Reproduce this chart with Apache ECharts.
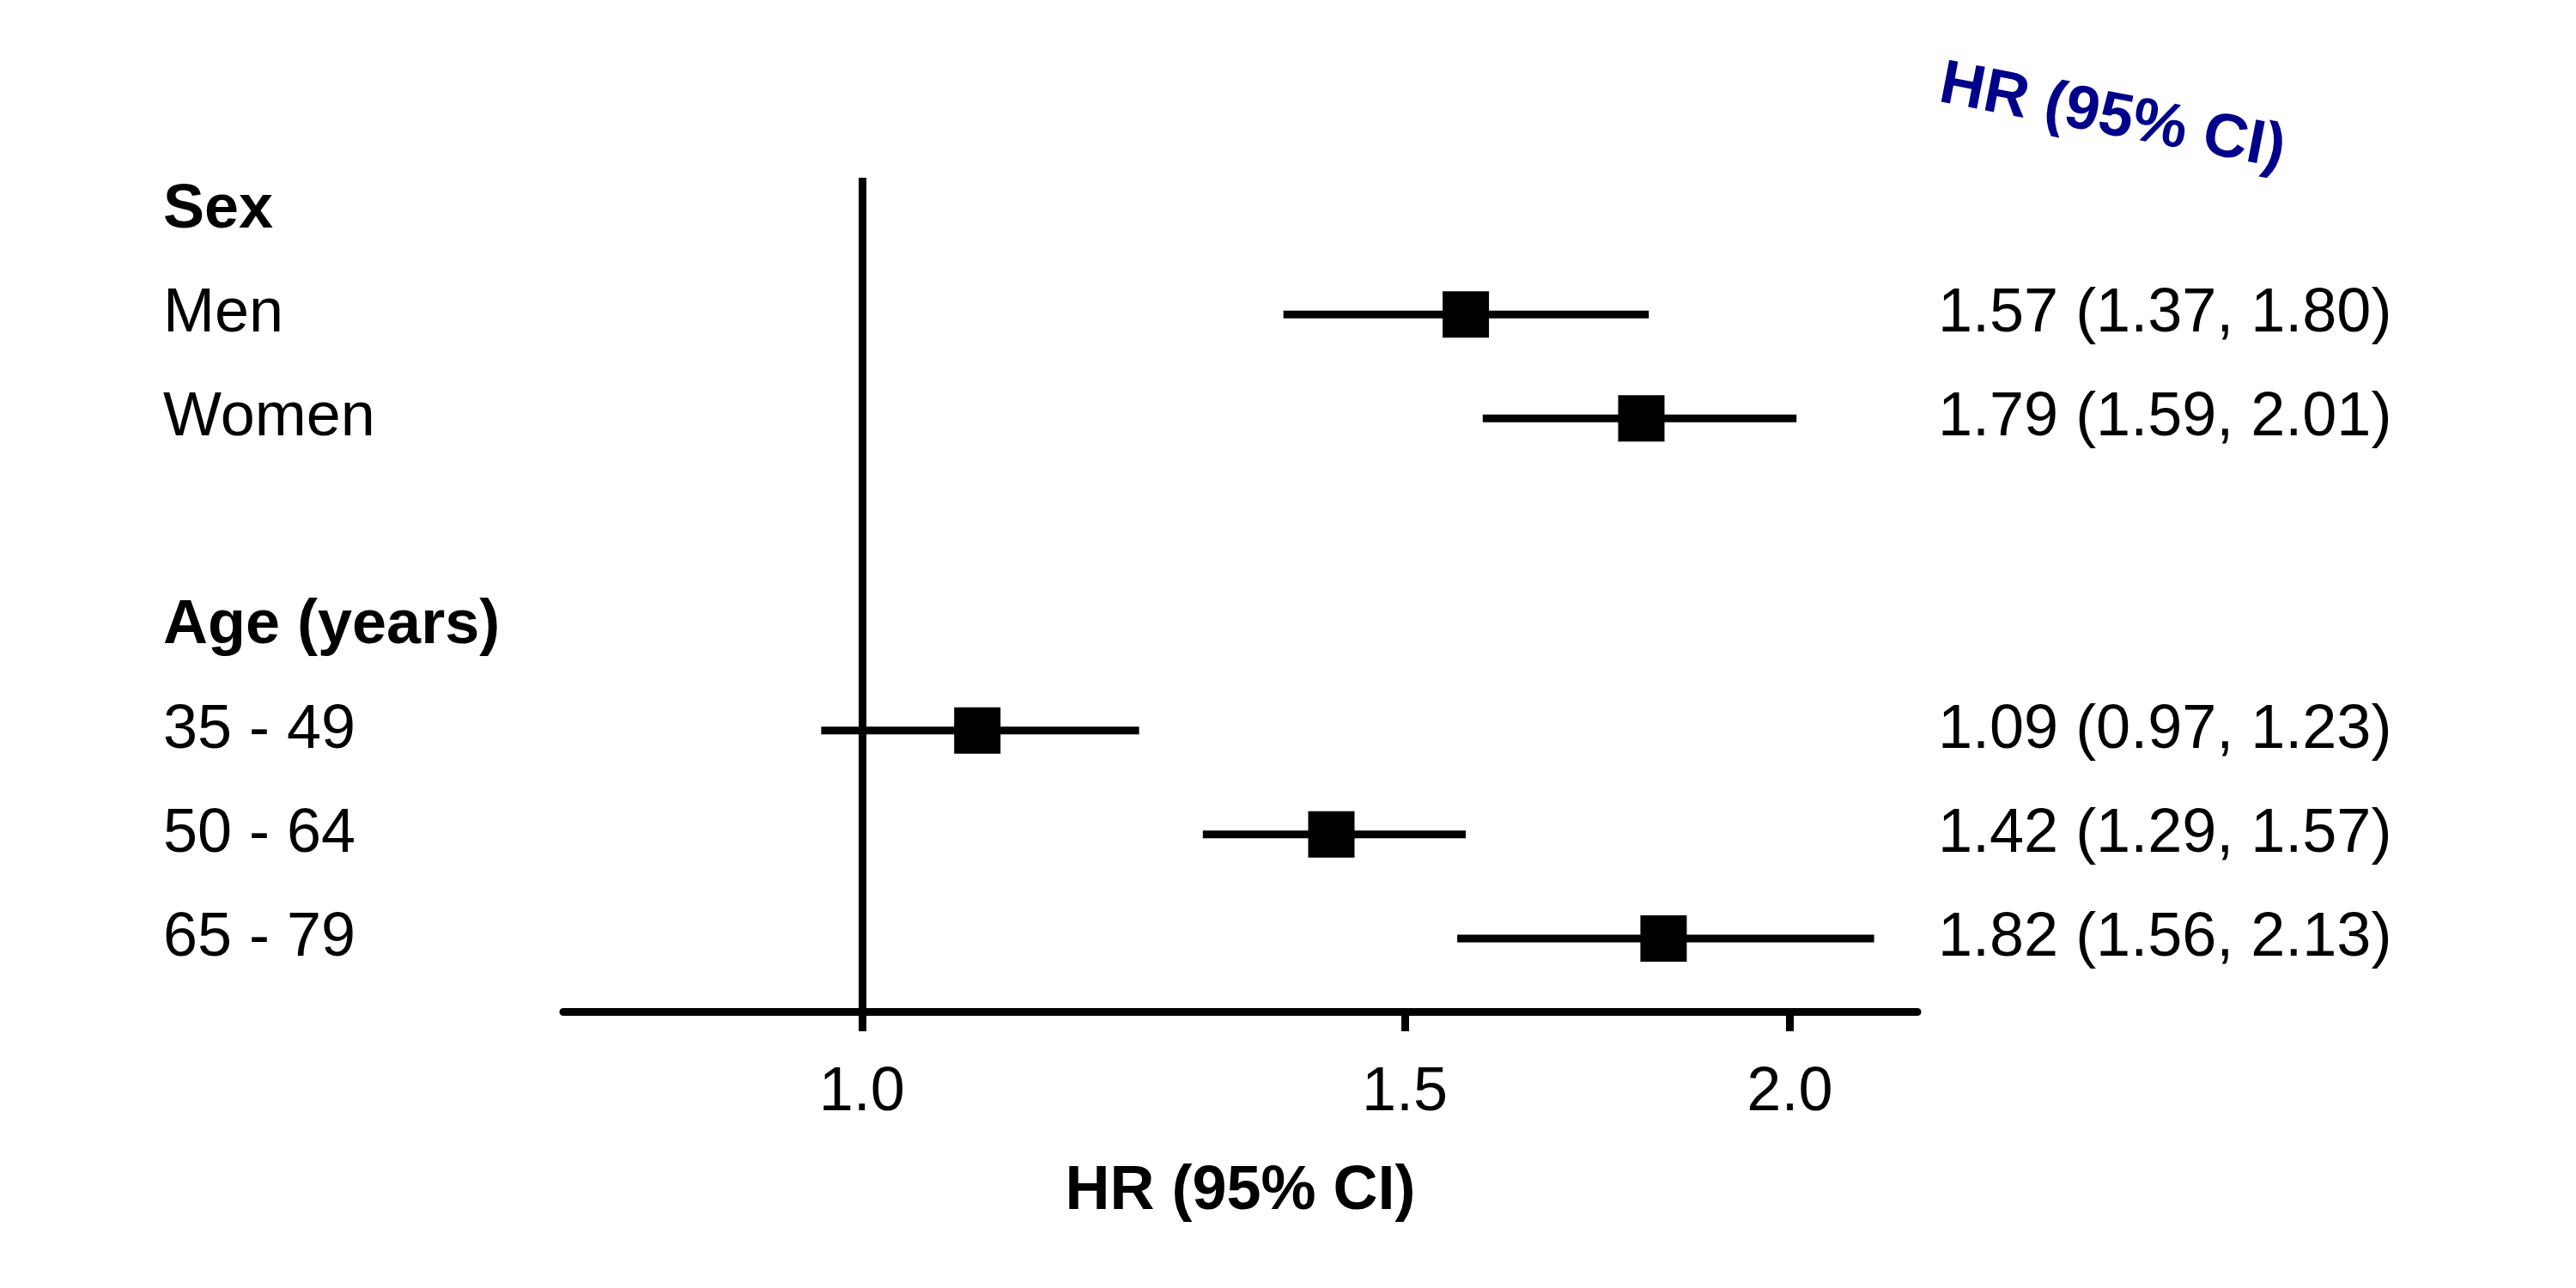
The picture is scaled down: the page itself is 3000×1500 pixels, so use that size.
<!DOCTYPE html>
<html>
<head>
<meta charset="utf-8">
<script src="https://cdn.jsdelivr.net/npm/echarts@6/dist/echarts.min.js"></script>
<style>
html,body{margin:0;padding:0;background:#fff;}
#chart{width:3000px;height:1500px;}
</style>
</head>
<body>
<div id="chart"></div>
<script>
const rowLabels = ['Sex', 'Men', 'Women', '', 'Age (years)', '35 - 49', '50 - 64', '65 - 79'];
const isHeader  = [true, false, false, false, true, false, false, false];
const hr        = [null, 1.57, 1.79, null, null, 1.09, 1.42, 1.82];
const lower     = [null, 1.37, 1.59, null, null, 0.97, 1.29, 1.56];
const upper     = [null, 1.80, 2.01, null, null, 1.23, 1.57, 2.13];
const xTicks    = [1.0, 1.5, 2.0];
const refValue  = 1.0;
const xTitle    = 'HR (95% CI)';
const colTitle  = 'HR (95% CI)';

const rowIdx = rowLabels.map((_, i) => i);
const pointData = [];
const ciData = [];
rowIdx.forEach(i => {
  if (hr[i] != null) {
    pointData.push([hr[i], i]);
    ciData.push([lower[i], upper[i], i]);
  }
});
const rightText = rowIdx.map(i => hr[i] == null ? '' :
  hr[i].toFixed(2) + ' (' + lower[i].toFixed(2) + ', ' + upper[i].toFixed(2) + ')');

const FONT = 'Liberation Sans';
const chart = echarts.init(document.getElementById('chart'), null, {renderer: 'canvas'});
const yCommon = {
  type: 'value', inverse: true, min: -0.314, max: 7.702,
  axisLine: {show: false}, axisTick: {show: false}, splitLine: {show: false}
};
chart.setOption({
  backgroundColor: '#ffffff',
  animation: false,
  grid: {left: 656, right: 767, top: 207, bottom: 322, containLabel: false},
  xAxis: {
    type: 'log', logBase: 10, min: 0.8, max: 2.2,
    name: xTitle, nameLocation: 'middle', nameGap: 174,
    nameTextStyle: {fontFamily: FONT, fontSize: 72, fontWeight: 'bold', color: '#000'},
    axisLine: {show: true, onZero: false, lineStyle: {color: '#000', width: 9, cap: 'round'}},
    axisTick: {show: true, customValues: xTicks, length: 23, lineStyle: {color: '#000', width: 9}},
    axisLabel: {show: true, customValues: xTicks, margin: 59,
      formatter: v => Number(v).toFixed(1),
      fontFamily: FONT, fontSize: 72, color: '#000'},
    splitLine: {show: false}, minorTick: {show: false}
  },
  yAxis: [
    Object.assign({}, yCommon, {
      position: 'left',
      axisLabel: {show: true, customValues: rowIdx, align: 'left', margin: 466,
        formatter: v => { const i = Math.round(v); return isHeader[i] ? '{b|' + rowLabels[i] + '}' : '{n|' + rowLabels[i] + '}'; },
        rich: {
          b: {fontFamily: FONT, fontSize: 72, fontWeight: 'bold', color: '#000'},
          n: {fontFamily: FONT, fontSize: 72, color: '#000'}
        }}
    }),
    Object.assign({}, yCommon, {
      position: 'right',
      axisLabel: {show: true, customValues: rowIdx, align: 'left', margin: 24,
        formatter: v => rightText[Math.round(v)],
        fontFamily: FONT, fontSize: 72, color: '#000'}
    })
  ],
  graphic: [{
    type: 'text', x: 2460, y: 137, rotation: -11 * Math.PI / 180,
    style: {text: colTitle, fontFamily: FONT, fontSize: 72, fontWeight: 'bold',
      fill: '#00008B', align: 'center', verticalAlign: 'middle'}
  }],
  series: [
    {
      type: 'custom', xAxisIndex: 0, yAxisIndex: 0, silent: true,
      data: ciData,
      renderItem: (params, api) => {
        const a = api.coord([api.value(0), api.value(2)]);
        const b = api.coord([api.value(1), api.value(2)]);
        return {type: 'line', shape: {x1: a[0], y1: a[1], x2: b[0], y2: b[1]},
          style: {stroke: '#000', lineWidth: 9}};
      },
      z: 2
    },
    {
      type: 'scatter', xAxisIndex: 0, yAxisIndex: 0, silent: true,
      symbol: 'rect', symbolSize: 54,
      itemStyle: {color: '#000', opacity: 1},
      data: pointData,
      markLine: {
        silent: true, symbol: ['none', 'none'], label: {show: false},
        lineStyle: {color: '#000', width: 9, type: 'solid'},
        data: [{xAxis: refValue}]
      },
      z: 3
    }
  ]
});
</script>
</body>
</html>
